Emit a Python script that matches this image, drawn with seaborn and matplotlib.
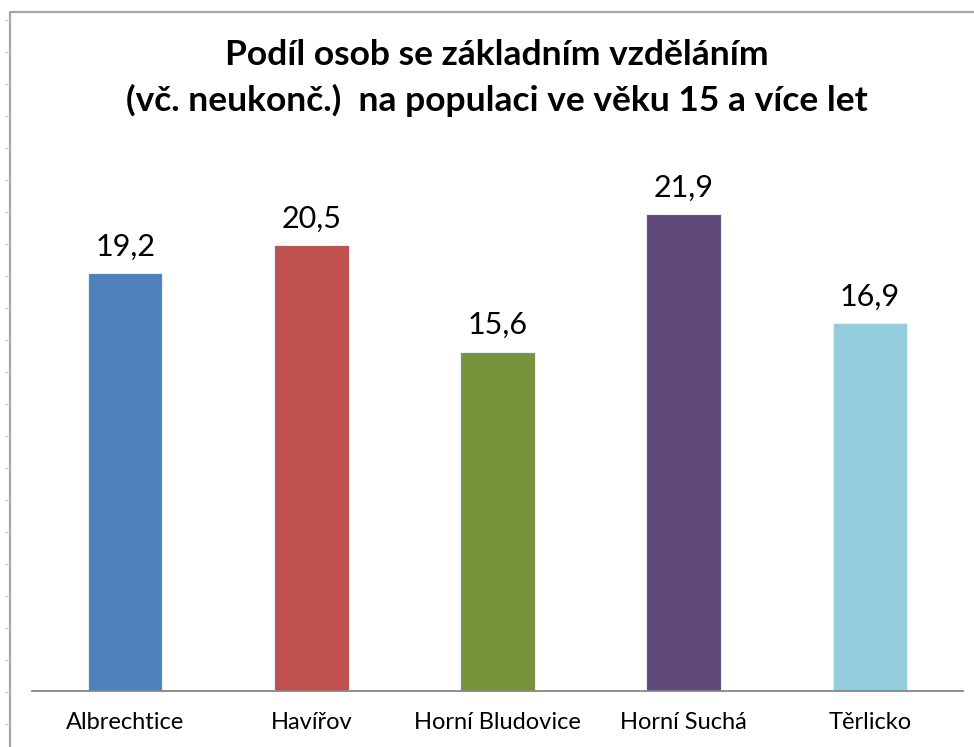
import matplotlib
matplotlib.use("Agg")
import matplotlib.pyplot as plt
import seaborn as sns
import pandas as pd
from matplotlib.lines import Line2D

categories = ["Albrechtice", "Havířov", "Horní Bludovice", "Horní Suchá", "Těrlicko"]
values = [19.2, 20.5, 15.6, 21.9, 16.9]
labels = ["19,2", "20,5", "15,6", "21,9", "16,9"]
colors = ["#4F81BD", "#C0504D", "#77933C", "#604A7B", "#93CDDD"]
title_lines = ["Podíl osob se základním vzděláním", "(vč. neukonč.)  na populaci ve věku 15 a více let"]

sns.set_theme(style="white")
plt.rcParams["font.family"] = ["Lato", "DejaVu Sans"]

W, H = 974, 747
fig = plt.figure(figsize=(W / 100, H / 100), dpi=100)
ax = fig.add_axes([32 / W, 1 - 691 / H, (963 - 32) / W, (691 - 147) / H])

df = pd.DataFrame({"cat": categories, "val": values})
sns.barplot(data=df, x="cat", y="val", hue="cat", palette=colors, width=0.4,
            legend=False, ax=ax, edgecolor="#e8eef5", linewidth=0.8, saturation=1)

ax.set_ylim(0, 25)
ax.set_xlim(-0.5, len(categories) - 0.5)
ax.set_xlabel("")
ax.set_ylabel("")
ax.set_yticks([])
for s in ["top", "left", "right"]:
    ax.spines[s].set_visible(False)
ax.spines["bottom"].set_color("#868686")
ax.spines["bottom"].set_linewidth(1.3)
ax.tick_params(axis="x", length=0, pad=15, labelsize=17, labelcolor="#000000")

for i, (v, lab) in enumerate(zip(values, labels)):
    ax.annotate(lab, (i, v), xytext=(0, 9), textcoords="offset points",
                ha="center", va="bottom", fontsize=22, color="#000000")

fig.text(497 / W, 1 - 55 / H, title_lines[0], ha="center", va="center",
         fontsize=25.5, fontweight="bold", color="#000000")
fig.text(497 / W, 1 - 100 / H, title_lines[1], ha="center", va="center",
         fontsize=25.5, fontweight="bold", color="#000000")

# chart frame (outer border of the chart area)
fig.add_artist(Line2D([10 / W, 10 / W, 1.0], [0.0, 1 - 12 / H, 1 - 12 / H],
                      transform=fig.transFigure, color="#a6a6a6", linewidth=1.6))
y = 20
while y < H:
    fig.add_artist(Line2D([5 / W, 9 / W], [1 - y / H, 1 - y / H],
                          transform=fig.transFigure, color="#d0d0d0", linewidth=1))
    y += 32

fig.savefig("out.png", dpi=100)
